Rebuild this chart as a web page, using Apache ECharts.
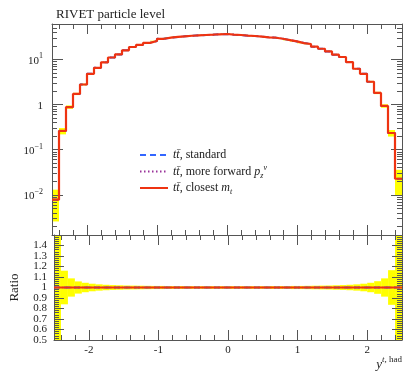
<!DOCTYPE html>
<html><head><meta charset="utf-8">
<script src="https://cdn.jsdelivr.net/npm/echarts@6/dist/echarts.min.js"></script>
<style>html,body{margin:0;padding:0;background:#fff}#c{width:415px;height:375px}</style>
</head><body><div id="c"></div><script>
// ---- data ----
const binEdges = [-2.5,-2.4,-2.3,-2.2,-2.1,-2.0,-1.9,-1.8,-1.7,-1.6,-1.5,-1.4,-1.3,-1.2,-1.1,-1.0,-0.9,-0.8,-0.7,-0.6,-0.5,-0.4,-0.3,-0.2,-0.1,0.0,0.1,0.2,0.3,0.4,0.5,0.6,0.7,0.8,0.9,1.0,1.1,1.2,1.3,1.4,1.5,1.6,1.7,1.8,1.9,2.0,2.1,2.2,2.3,2.4,2.5];
const closestMt = [0.0078,0.26,0.88,1.72,2.78,4.8,6.5,8.6,11.0,12.9,15.9,18.8,20.9,23.2,25.6,28.6,30.3,31.4,32.5,33.4,34.1,34.7,35.2,36.0,36.5,35.3,34.7,33.5,33.0,32.0,30.7,30.2,28.7,26.8,25.0,23.0,21.9,19.1,17.2,15.0,12.7,11.3,8.7,6.2,4.8,3.2,1.81,0.93,0.234,0.0227];
const standardVals = [0.0078,0.26,0.88,1.72,2.78,4.8,6.5,8.6,11.0,12.9,15.9,18.8,20.9,23.2,25.6,28.6,30.3,31.4,32.5,33.4,34.1,34.7,35.2,36.0,36.5,35.3,34.7,33.5,33.0,32.0,30.7,30.2,28.7,26.8,25.0,23.0,21.9,19.1,17.2,15.0,12.7,11.3,8.7,6.2,4.8,3.2,1.81,0.93,0.234,0.0227];
const forwardVals = [0.0078,0.26,0.88,1.72,2.78,4.8,6.5,8.6,11.0,12.9,15.9,18.8,20.9,23.2,25.6,28.6,30.3,31.4,32.5,33.4,34.1,34.7,35.2,36.0,36.5,35.3,34.7,33.5,33.0,32.0,30.7,30.2,28.7,26.8,25.0,23.0,21.9,19.1,17.2,15.0,12.7,11.3,8.7,6.2,4.8,3.2,1.81,0.93,0.234,0.0227];
// relative uncertainty (yellow band)
const relErr = [0.67,0.16,0.087,0.058,0.045,0.036,0.030,0.026,0.023,0.021,0.019,0.018,0.017,0.016,0.015,0.015,0.014,0.014,0.014,0.013,0.013,0.013,0.013,0.013,0.013,0.013,0.013,0.013,0.013,0.013,0.013,0.014,0.014,0.014,0.015,0.015,0.016,0.017,0.018,0.019,0.021,0.023,0.026,0.030,0.036,0.045,0.060,0.087,0.165,0.58];
const xMajorTicks = [-2,-1,0,1,2];
const xMinorTicks = [-2.4,-2.2,-1.8,-1.6,-1.4,-1.2,-0.8,-0.6,-0.4,-0.2,0.2,0.4,0.6,0.8,1.2,1.4,1.6,1.8,2.2,2.4];
const logMajorTicks = [0.01,0.1,1,10];
const logMinorTicks = [0.002,0.003,0.004,0.005,0.006,0.007,0.008,0.009,0.02,0.03,0.04,0.05,0.06,0.07,0.08,0.09,0.2,0.3,0.4,0.5,0.6,0.7,0.8,0.9,2,3,4,5,6,7,8,9,20,30,40,50,60];
const ratioLabelsA = [0.5,0.7,0.9,1.1,1.3];
const ratioLabelsB = [0.6,0.8,1.0,1.2,1.4];
const ratioMajorTicks = [0.5,0.6,0.7,0.8,0.9,1.0,1.1,1.2,1.3,1.4,1.5];
const seriesNames = ['standard','forward','closest'];

// ---- helpers ----
const ratioMinorTicks = [];
for (let k = 0; k <= 50; k++) { if (k % 5) ratioMinorTicks.push(Math.round((0.5 + 0.02*k)*100)/100); }
function stepData(vals) {
  const d = vals.map((v,i) => [binEdges[i], v]);
  d.push([binEdges[binEdges.length-1], vals[vals.length-1]]);
  return d;
}
const ratioStd = standardVals.map((v,i) => v/closestMt[i]);
const ratioFwd = forwardVals.map((v,i) => v/closestMt[i]);
const ratioCls = closestMt.map((v,i) => v/closestMt[i]);
const mainBand = closestMt.map((v,i) => [binEdges[i], binEdges[i+1], v*(1-relErr[i]), v*(1+relErr[i])]);
const ratioBand = relErr.map((e,i) => [binEdges[i], binEdges[i+1], 1-e, 1+e]);

const FONT = '"Liberation Serif","DejaVu Serif",serif';
const AX = '#555', TXT = '#222';
const RED = '#ee3311', BLUE = '#3366ff', PURPLE = '#993399', YEL = '#ffff00';

function xAx(grid, pos, ticks, len, line, label) {
  return {type:'value', gridIndex:grid, position:pos, min:-2.5, max:2.5,
    axisLine:{show:line, onZero:false, lineStyle:{color:AX, width:1}},
    axisTick:{show:true, inside:true, length:len, customValues:ticks, lineStyle:{color:AX, width:1}},
    axisLabel: label ? {show:true, customValues:xMajorTicks, margin:5, fontFamily:FONT, fontSize:11, color:TXT, showMinLabel:true, showMaxLabel:true} : {show:false},
    splitLine:{show:false}};
}
function yLog(pos, ticks, len, line, label) {
  return {type:'log', logBase:10, gridIndex:0, position:pos, min:0.00129, max:60.8,
    axisLine:{show:line, onZero:false, lineStyle:{color:AX, width:1}},
    axisTick:{show:true, inside:true, length:len, customValues:ticks, lineStyle:{color:AX, width:1}},
    axisLabel: label ? {show:true, customValues:logMajorTicks, margin:9, fontFamily:FONT, fontSize:11, color:TXT, showMinLabel:true, showMaxLabel:true,
      formatter: v => { const p = Math.round(Math.log10(v)); if (p === 0) return '{b|1}'; return '{b|10}{s|' + String(p).replace('-','\u2212') + '}'; },
      rich:{b:{fontFamily:FONT, fontSize:11, color:TXT, lineHeight:14, verticalAlign:'bottom'}, s:{fontFamily:FONT, fontSize:8, color:TXT, lineHeight:14, verticalAlign:'top'}}} : {show:false},
    splitLine:{show:false}, minorTick:{show:false}};
}
function yRat(pos, ticks, len, line, labels, named) {
  const o = {type:'value', gridIndex:1, position:pos, min:0.5, max:1.5,
    axisLine:{show:line, onZero:false, lineStyle:{color:AX, width:1}},
    axisTick:{show:true, inside:true, length:len, customValues:ticks, lineStyle:{color:AX, width:1}},
    axisLabel: labels ? {show:true, customValues:labels, margin:7, fontFamily:FONT, fontSize:11, color:TXT, showMinLabel:true, showMaxLabel:true, hideOverlap:false,
      formatter: v => (Math.abs(v-1) < 1e-9 ? '1' : v.toFixed(1))} : {show:false},
    splitLine:{show:false}};
  if (named) { o.name = 'Ratio'; o.nameLocation = 'middle'; o.nameRotate = 90; o.nameGap = 33;
    o.nameTextStyle = {fontFamily:FONT, fontSize:13, color:TXT}; }
  return o;
}
function bandRender(params, api) {
  const p0 = api.coord([api.value(0), api.value(3)]);
  const p1 = api.coord([api.value(1), api.value(2)]);
  const cs = params.coordSys;
  const r = echarts.graphic.clipRectByRect({x:p0[0], y:p0[1], width:p1[0]-p0[0], height:p1[1]-p0[1]},
    {x:cs.x, y:cs.y, width:cs.width, height:cs.height});
  return r && {type:'rect', shape:r, style:{fill:YEL}};
}
function lineSeries(name, data, xi, yi, color, type, width, z) {
  return {name, type:'line', xAxisIndex:xi, yAxisIndex:yi, data, step:'end', symbol:'none', showSymbol:false,
    lineStyle:{color, type, width}, itemStyle:{color}, z, silent:true, animation:false, clip:true};
}

const legendNames = {
  standard: '{i|tt\u0304}{n|, standard}',
  forward: '{i|tt\u0304}{n|, more forward }{i|p}{sub|z}{sup|\u03bd}',
  closest: '{i|tt\u0304}{n|, closest }{i|m}{sub|t}'
};

const chart = echarts.init(document.getElementById('c'), null, {renderer:'canvas'});
chart.setOption({
  animation:false,
  backgroundColor:'#fff',
  title:{text:'RIVET particle level', left:51, top:3, textStyle:{fontFamily:FONT, fontSize:13, fontWeight:'normal', color:TXT}},
  grid:[{left:52, right:13, top:24, height:211}, {left:52, right:13, top:235, height:105}],
  legend:{orient:'vertical', left:139, top:149, itemWidth:28, itemHeight:14, itemGap:2.5, padding:0,
    data:seriesNames, formatter: n => legendNames[n],
    itemStyle:{opacity:0, borderWidth:0},
    textStyle:{fontFamily:FONT, fontSize:12, color:TXT, rich:{
      i:{fontFamily:FONT, fontStyle:'italic', fontSize:12, color:TXT, lineHeight:16},
      n:{fontFamily:FONT, fontSize:12, color:TXT, lineHeight:16},
      sub:{fontFamily:FONT, fontStyle:'italic', fontSize:8, color:TXT, lineHeight:16, verticalAlign:'bottom'},
      sup:{fontFamily:FONT, fontStyle:'italic', fontSize:8, color:TXT, lineHeight:16, verticalAlign:'top'}}}},
  xAxis:[
    xAx(0,'bottom',xMajorTicks,10,true,false), xAx(0,'bottom',xMinorTicks,5,false,false),
    xAx(0,'top',xMajorTicks,10,true,false), xAx(0,'top',xMinorTicks,5,false,false),
    xAx(1,'bottom',xMajorTicks,10,true,true), xAx(1,'bottom',xMinorTicks,5,false,false),
    xAx(1,'top',xMajorTicks,10,true,false), xAx(1,'top',xMinorTicks,5,false,false)
  ],
  yAxis:[
    yLog('left',logMajorTicks,11,true,true), yLog('left',logMinorTicks,5,false,false),
    yLog('right',logMajorTicks,11,true,false), yLog('right',logMinorTicks,5,false,false),
    yRat('left',ratioMajorTicks,10,true,ratioLabelsA,true), yRat('left',ratioMinorTicks,5,false,ratioLabelsB,false),
    yRat('right',ratioMajorTicks,10,true,null,false), yRat('right',ratioMinorTicks,5,false,null,false)
  ],
  graphic:[{type:'text', right:13, top:355, style:{text:'{y|y}{s|t}{h|, had}', rich:{
    y:{fontFamily:FONT, fontStyle:'italic', fontSize:13, fill:TXT, lineHeight:16, verticalAlign:'bottom'},
    s:{fontFamily:FONT, fontStyle:'italic', fontSize:9, fill:TXT, lineHeight:16, verticalAlign:'top'},
    h:{fontFamily:FONT, fontSize:9, fill:TXT, lineHeight:16, verticalAlign:'top'}}}}],
  series:[
    {type:'custom', name:'band', xAxisIndex:0, yAxisIndex:0, data:mainBand, renderItem:bandRender, encode:{x:[0,1], y:[2,3]}, z:-1, silent:true},
    {type:'custom', name:'rband', xAxisIndex:4, yAxisIndex:4, data:ratioBand, renderItem:bandRender, encode:{x:[0,1], y:[2,3]}, z:-1, silent:true},
    lineSeries('standard', stepData(standardVals), 0, 0, BLUE, [6,4], 2, 3),
    lineSeries('forward', stepData(forwardVals), 0, 0, PURPLE, [1.5,2.5], 1.5, 4),
    lineSeries('closest', stepData(closestMt), 0, 0, RED, 'solid', 2.2, 5),
    lineSeries('standard', stepData(ratioStd), 4, 4, BLUE, [6,4], 2, 3),
    lineSeries('forward', stepData(ratioFwd), 4, 4, PURPLE, [1.5,2.5], 1.5, 4),
    lineSeries('closest', stepData(ratioCls), 4, 4, RED, 'solid', 2.2, 5)
  ]
});
</script></body></html>
